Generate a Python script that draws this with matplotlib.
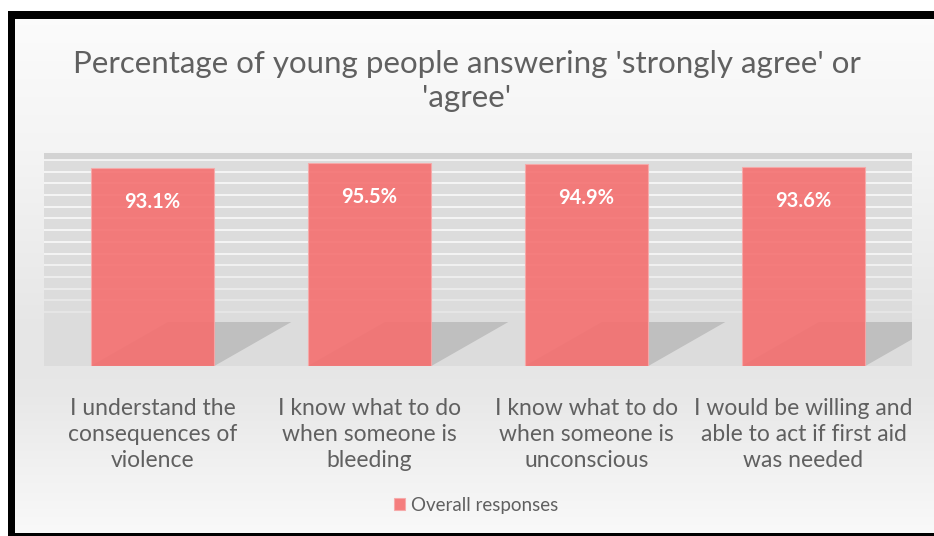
import numpy as np
import matplotlib
matplotlib.use("Agg")
import matplotlib.pyplot as plt
from matplotlib.patches import Rectangle, Polygon

# survey results
categories = [
    "I understand the\nconsequences of\nviolence",
    "I know what to do\nwhen someone is\nbleeding",
    "I know what to do\nwhen someone is\nunconscious",
    "I would be willing and\nable to act if first aid\nwas needed",
]
overall = [93.1, 95.5, 94.9, 93.6]
series_name = "Overall responses"
title = "Percentage of young people answering 'strongly agree' or\n'agree'"

FONT = ["Lato", "DejaVu Sans"]
TXT = "#606060"
BAR = "#F57070"

W, H = 934, 536
fig = plt.figure(figsize=(W / 100, H / 100), dpi=100)
fig.patch.set_facecolor("white")

# ---- soft grey background + black frame ----
bg = fig.add_axes([0, 0, 1, 1], zorder=-10)
bg.set_xlim(0, W)
bg.set_ylim(H, 0)
bg.axis("off")
rows = np.arange(11, H + 1, 2)
shade = np.interp(rows, [11, 150, 330, 390, 460, 533], [0.985, 0.955, 0.90, 0.905, 0.94, 0.975])
for yr, g in zip(rows, shade):
    bg.add_patch(Rectangle((8, yr), W + 40, 2.2, color=(g, g, g), lw=0, zorder=1))
for r in [(8, 11, W + 40, 8), (8, 11, 7, H), (8, 533, W + 40, 5)]:
    bg.add_patch(Rectangle(r[:2], r[2], r[3], color="black", lw=0, zorder=3))

# ---- plot area ----
left, right, top, bottom = 44, 912, 153, 366
ax = fig.add_axes([left / W, 1 - bottom / H, (right - left) / W, (bottom - top) / H])
ax.set_facecolor("none")
ax.set_xlim(-0.5, len(categories) - 0.5)
ax.set_ylim(0, 100)
for s in ax.spines.values():
    s.set_visible(False)

# back wall with white rules
px = bottom - top
ax.add_patch(Rectangle((0, 0), 1, 1, transform=ax.transAxes, color="#dcdcdc", zorder=0))
ax.add_patch(Rectangle((0, (bottom - 159) / px), 1, (159 - top) / px,
                       transform=ax.transAxes, color="#d3d3d3", zorder=0.5))
floor_y = (bottom - 322) / px
for k in range(14):
    yp = 160 + 11.7 * k
    fy = (bottom - yp) / px
    a = 0.9 if yp < 250 else 0.9 - (yp - 250) / 110
    ax.axhline(fy * 100, color="white", lw=1.1, alpha=max(a, 0.2), zorder=1)

# bars with a slanted drop shadow on the floor
x = np.arange(len(categories))
bw = 0.57
dx = 77 / ((right - left) / len(categories))
dy = floor_y * 100
for xi in x:
    xl, xr = xi - bw / 2, xi + bw / 2
    ax.add_patch(Polygon([(xl, 0), (xr, 0), (xr + dx, dy), (xl + dx, dy)],
                         closed=True, color="#bcbcbc", alpha=0.9, lw=0, zorder=2))
bars = ax.bar(x, overall, width=bw, color=BAR, alpha=0.9,
              edgecolor="#f7a9a9", linewidth=0.8, zorder=3, label=series_name)

for xi, v in zip(x, overall):
    ax.annotate(f"{v}%", (xi, v), xytext=(0, -34), textcoords="offset pixels",
                ha="center", va="center", color="white", fontsize=14.5,
                fontweight="bold", family=FONT, zorder=4)

ax.set_yticks([])
ax.set_xticks(x)
ax.set_xticklabels(categories, family=FONT, fontsize=16.5, color=TXT, linespacing=1.3)
ax.tick_params(axis="x", length=0, pad=23)

fig.text(0.5, 1 - 81 / H, title, ha="center", va="center", fontsize=22.5,
         color=TXT, family=FONT, linespacing=1.3)

leg = fig.legend(handles=[bars], labels=[series_name], loc="center",
                 bbox_to_anchor=(476 / W, 1 - 505 / H), frameon=False,
                 prop={"family": FONT, "size": 13.5},
                 handlelength=0.6, handleheight=0.6, handletextpad=0.3)
for t in leg.get_texts():
    t.set_color(TXT)

fig.savefig("out.png", dpi=100)
